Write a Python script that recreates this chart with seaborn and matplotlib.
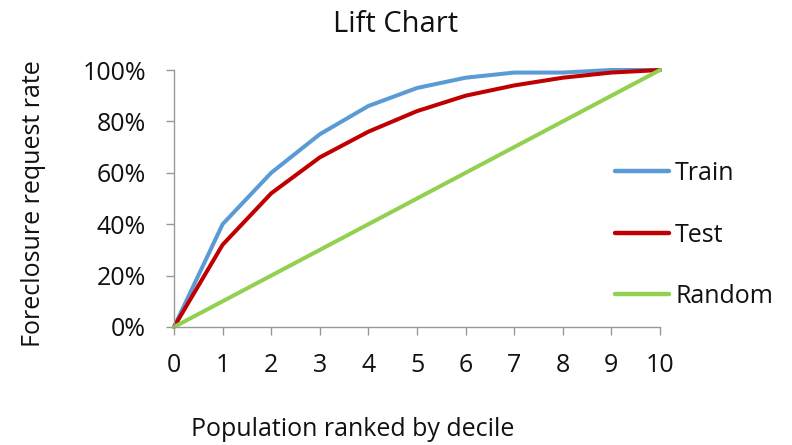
import pandas as pd
import matplotlib.pyplot as plt
import seaborn as sns

# lift chart data (cumulative share of foreclosure requests by decile)
deciles = [0, 1, 2, 3, 4, 5, 6, 7, 8, 9, 10]
train = [0, 40, 60, 75, 86, 93, 97, 99, 99, 100, 100]
test = [0, 32, 52, 66, 76, 84, 90, 94, 97, 99, 100]
random_ = [0, 10, 20, 30, 40, 50, 60, 70, 80, 90, 100]
pct_ticks = [0, 20, 40, 60, 80, 100]
series_names = ['Train', 'Test', 'Random']
colors = ['#5B9BD5', '#C00000', '#92D050']

df = pd.DataFrame({'decile': deciles, 'Train': train, 'Test': test, 'Random': random_})
long = df.melt(id_vars='decile', var_name='series', value_name='rate')

sns.set_style("white")
plt.rcParams['font.family'] = ['Open Sans', 'DejaVu Sans']

fig = plt.figure(figsize=(7.92, 4.45), dpi=100)
ax = fig.add_axes([174/792, 1 - 327/445, (660-174)/792, (327-70)/445])

sns.lineplot(data=long, x='decile', y='rate', hue='series', hue_order=series_names,
             palette=colors, linewidth=2.9, ax=ax)

ax.set_xlim(0, 10)
ax.set_ylim(0, 100)
ax.set_xticks(deciles)
ax.set_yticks(pct_ticks)
ax.set_yticklabels([f'{v}%' for v in pct_ticks])
ax.tick_params(axis='both', labelsize=18, labelcolor='#111111', length=6, width=1,
               direction='out', color='#999999')
ax.tick_params(axis='x', pad=13)
ax.tick_params(axis='y', pad=14)
for side in ['top', 'right']:
    ax.spines[side].set_visible(False)
for side in ['left', 'bottom']:
    ax.spines[side].set_color('#999999')
    ax.spines[side].set_linewidth(1)
ax.xaxis.set_ticks_position('bottom')
ax.yaxis.set_ticks_position('left')
for line in ax.get_lines():
    line.set_clip_on(False)
    line.set_solid_capstyle('round')

# axis titles
ax.set_xlabel('Population ranked by decile', fontsize=18, color='#111111')
ax.set_ylabel('Foreclosure request rate', fontsize=18, color='#111111')
ax.xaxis.label.set_va('center')
ax.yaxis.label.set_va('center')
ax.xaxis.set_label_coords((353-174)/486, (327-430)/257)
ax.yaxis.set_label_coords((34-174)/486, (327-204)/257)

fig.suptitle('Lift Chart', fontsize=21, x=0.5, y=1 - 10/445, va='top', color='#111111')

leg = ax.legend(loc='upper left', bbox_to_anchor=(615/792, 1 - 161/445),
                bbox_transform=fig.transFigure, frameon=False, fontsize=18,
                handlelength=2.15, handletextpad=0.25, labelspacing=1.46,
                borderpad=0, borderaxespad=0)
for h in leg.get_lines():
    h.set_linewidth(3.2)
for t in leg.get_texts():
    t.set_color('#111111')

fig.savefig('out.png', dpi=100)
